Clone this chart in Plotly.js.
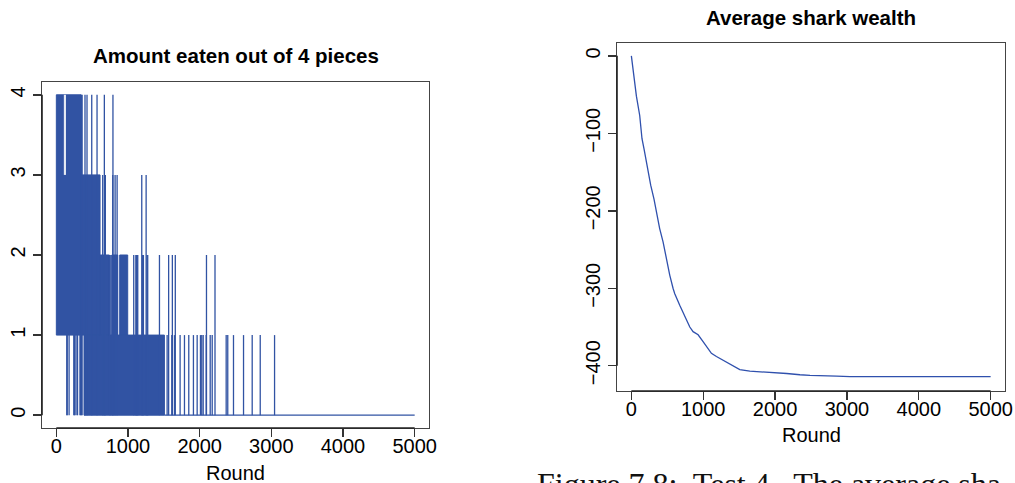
<!DOCTYPE html>
<html><head><meta charset="utf-8">
<script src="https://cdn.plot.ly/plotly-3.0.1.min.js"></script>
<style>html,body{margin:0;padding:0;background:#fff;overflow:hidden}</style>
</head><body><div id="chart" style="width:1015px;height:483px"></div>
<script>
// ---------- Left panel: Amount eaten out of 4 pieces ----------
// dense regions where the series oscillates so fast it reads as a solid block
const bandStart = [0, 345, 610, 386, 773, 884];
const bandEnd   = [345, 610, 740, 1508, 857, 996];
const bandLow   = [1, 1, 1, 0, 1, 1];
const bandHigh  = [4, 3, 2, 1, 2, 2];

// isolated vertical excursions (round, from, to)
const spikeRound = [146, 152, 178, 244, 252, 262, 288, 296, 330, 338,
  349, 360, 400, 428, 494, 568, 670, 790,
  647, 684, 742, 760, 787, 820, 848, 1192, 1253,
  1080, 1110, 1118, 1127, 1136, 1205, 1215, 1265, 1275, 1439, 1567, 1619, 1660, 2095, 2214,
  1546, 1611, 1648, 1727, 1788, 1848, 1913, 1965, 2011, 2029, 2049, 2091, 2147, 2175,
  2370, 2392, 2472, 2612, 2733, 2845, 3045];
const spikeLow = [0, 0, 0, 0, 0, 0, 0, 0, 0, 0,
  0, 0, 0, 0, 0, 0, 0, 0,
  0, 0, 0, 0, 0, 0, 0, 0, 0,
  0, 0, 0, 0, 0, 0, 0, 0, 0, 0, 0, 0, 0, 0, 0,
  0, 0, 0, 0, 0, 0, 0, 0, 0, 0, 0, 0, 0, 0,
  0, 0, 0, 0, 0, 0, 0];
const spikeHigh = [1, 1, 1, 1, 1, 1, 1, 1, 1, 1,
  4, 4, 4, 4, 4, 4, 4, 4,
  3, 3, 2, 2, 3, 3, 3, 3, 3,
  2, 2, 2, 2, 2, 2, 2, 2, 2, 2, 2, 2, 2, 2, 2,
  1, 1, 1, 1, 1, 1, 1, 1, 1, 1, 1, 1, 1, 1,
  1, 1, 1, 1, 1, 1, 1];
// rounds where the block is interrupted (round, from, to)
const gapRound = [112, 126];
const gapLow   = [3, 3];
const gapHigh  = [4, 4];
// flat tail at zero
const tailRound = [1508, 5000];
const tailValue = [0, 0];

// ---------- Right panel: Average shark wealth ----------
const wealthRound = [0, 36, 70, 116, 148, 176, 209, 241, 269, 315, 362, 394, 441, 488, 534, 580, 604, 673, 720, 766, 813, 859, 929, 998, 1045, 1114, 1184, 1277, 1370, 1439, 1509, 1649, 1882, 2021, 2161, 2346, 2486, 2857, 3043, 5000];
const wealthValue = [0, -30, -52, -77, -107, -120, -137, -154, -167, -185, -208, -223, -240, -262, -283, -300, -307, -322, -331, -341, -350, -356, -360, -369, -375.5, -384, -388, -393, -397, -401, -405, -407, -408, -409, -410, -411.6, -412.5, -413.3, -414, -414];

const xTicks = [0, 1000, 2000, 3000, 4000, 5000];
const yTicksLeft = [0, 1, 2, 3, 4];
const yTicksRight = [0, -100, -200, -300, -400];

const W = 1015, H = 483;
const px = v => v / W, py = v => (H - v) / H;
const BLUE = '#3153a3';

// build traces
const bx = [], by = [];
bandStart.forEach((s, i) => {
  bx.push(s, bandEnd[i], bandEnd[i], s, s, null);
  by.push(bandLow[i], bandLow[i], bandHigh[i], bandHigh[i], bandLow[i], null);
});
const sx = [], sy = [];
spikeRound.forEach((r, i) => { sx.push(r, r, null); sy.push(spikeLow[i], spikeHigh[i], null); });
const gx = [], gy = [];
gapRound.forEach((r, i) => { gx.push(r, r, null); gy.push(gapLow[i], gapHigh[i], null); });

const traces = [
  {type: 'scatter', mode: 'lines', x: bx, y: by, fill: 'toself', fillcolor: BLUE,
   line: {color: BLUE, width: 1}, xaxis: 'x', yaxis: 'y', hoverinfo: 'skip'},
  {type: 'scatter', mode: 'lines', x: sx, y: sy, line: {color: BLUE, width: 1.3},
   xaxis: 'x', yaxis: 'y', connectgaps: false},
  {type: 'scatter', mode: 'lines', x: gx, y: gy, line: {color: '#ffffff', width: 1},
   xaxis: 'x', yaxis: 'y', connectgaps: false},
  {type: 'scatter', mode: 'lines', x: tailRound, y: tailValue, line: {color: BLUE, width: 1.3},
   xaxis: 'x', yaxis: 'y'},
  {type: 'scatter', mode: 'lines', x: wealthRound, y: wealthValue, line: {color: '#2f50ad', width: 1.3},
   xaxis: 'x2', yaxis: 'y2'}
];

const axBase = {
  showgrid: false, zeroline: false, showline: true, mirror: true,
  linecolor: '#444', linewidth: 1.4, ticks: 'outside', ticklen: 8, tickwidth: 1.4,
  tickcolor: '#333', tickfont: {family: 'Liberation Sans, Arial, sans-serif', size: 20, color: '#000'},
  automargin: false, fixedrange: true
};

const layout = {
  width: W, height: H, margin: {l: 0, r: 0, t: 0, b: 0},
  paper_bgcolor: '#fff', plot_bgcolor: '#fff', showlegend: false,
  font: {family: 'Liberation Sans, Arial, sans-serif', size: 20, color: '#000'},
  xaxis: Object.assign({}, axBase, {domain: [px(42), px(429)], range: [-200, 5200], tickvals: xTicks, anchor: 'y', ticklabelstandoff: -8}),
  yaxis: Object.assign({}, axBase, {domain: [py(428), py(82)], range: [-0.16, 4.16], tickvals: yTicksLeft, tickangle: -90, anchor: 'x'}),
  xaxis2: Object.assign({}, axBase, {domain: [px(617), px(1005)], range: [-200, 5200], tickvals: xTicks, anchor: 'y2', ticklabelstandoff: -8}),
  yaxis2: Object.assign({}, axBase, {domain: [py(391), py(43)], range: [-432.6, 16.6], tickvals: yTicksRight, tickangle: -90, anchor: 'x2'}),
  shapes: [
    {type: 'line', xref: 'x', yref: 'y domain', x0: 0, x1: 5000, y0: 0, y1: 0, line: {color: '#222', width: 1.6}},
    {type: 'line', xref: 'x domain', yref: 'y', x0: 0, x1: 0, y0: 0, y1: 4, line: {color: '#222', width: 1.6}},
    {type: 'line', xref: 'x2', yref: 'y2 domain', x0: 0, x1: 5000, y0: 0, y1: 0, line: {color: '#222', width: 1.6}},
    {type: 'line', xref: 'x2 domain', yref: 'y2', x0: 0, x1: 0, y0: -400, y1: 0, line: {color: '#222', width: 1.6}}
  ],
  annotations: [
    {text: '<b>Amount eaten out of 4 pieces</b>', xref: 'paper', yref: 'paper', x: px(235.5), y: py(55),
     xanchor: 'center', yanchor: 'middle', showarrow: false, font: {size: 20.5, color: '#000'}},
    {text: '<b>Average shark wealth</b>', xref: 'paper', yref: 'paper', x: px(811), y: py(17),
     xanchor: 'center', yanchor: 'middle', showarrow: false, font: {size: 20.5, color: '#000'}},
    {text: 'Round', xref: 'paper', yref: 'paper', x: px(235.5), y: py(473),
     xanchor: 'center', yanchor: 'middle', showarrow: false, font: {size: 20, color: '#000'}},
    {text: 'Round', xref: 'paper', yref: 'paper', x: px(811), y: py(435),
     xanchor: 'center', yanchor: 'middle', showarrow: false, font: {size: 20, color: '#000'}},
    {text: 'Figure 7.8:\u00a0 Test 4.\u00a0 The average sha', xref: 'paper', yref: 'paper', x: px(535), y: py(464),
     xanchor: 'left', yanchor: 'top', showarrow: false,
     font: {family: 'Liberation Serif, DejaVu Serif, serif', size: 32, color: '#111'}}
  ]
};

Plotly.newPlot('chart', traces, layout, {staticPlot: true, displayModeBar: false});
</script></body></html>
